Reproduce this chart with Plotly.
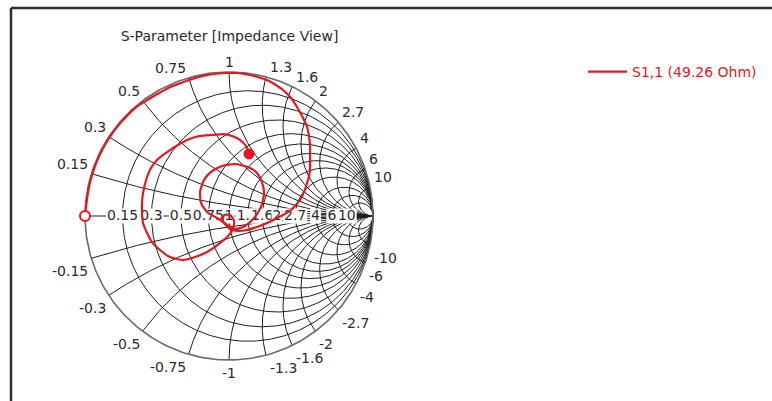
import numpy as np
import plotly.graph_objects as go

# ---- chart data -------------------------------------------------------
chart_title = "S-Parameter [Impedance View]"
trace_name = "S1,1 (49.26 Ohm)"

# Normalised grid values (resistance circles and reactance arcs)
grid_values = [0.15, 0.3, 0.5, 0.75, 1, 1.3, 1.6, 2, 2.7, 4, 6, 10]
grid_labels = ["0.15", "0.3", "0.5", "0.75", "1", "1.3", "1.6", "2", "2.7", "4", "6", "10"]

# S1,1 reflection coefficient over the frequency sweep (real / imaginary)
s11_re = [
    -1.000, -0.990, -0.978, -0.959, -0.933, -0.900, -0.860, -0.813, -0.761, -0.702,
    -0.638, -0.565, -0.492, -0.416, -0.336, -0.255, -0.172, -0.087, 0.000,
    0.056, 0.146, 0.201, 0.264, 0.326, 0.375, 0.431, 0.472, 0.507, 0.542, 0.556,
    0.563, 0.563, 0.563, 0.556, 0.542, 0.521, 0.493, 0.458, 0.424, 0.347, 0.264,
    0.194, 0.125,
    0.063, 0.007, -0.042, -0.083, -0.153, -0.194, -0.201, -0.174, -0.125, -0.049,
    0.042, 0.132, 0.194, 0.229, 0.243, 0.222, 0.174, 0.111, 0.049,
    0.000, -0.042, -0.035, 0.007, 0.035, 0.028, -0.007, -0.063,
    -0.153, -0.236, -0.319, -0.410, -0.479, -0.535, -0.569, -0.597, -0.604, -0.604,
    -0.597, -0.569, -0.542, -0.500, -0.458, -0.410, -0.354, -0.292, -0.201, -0.111,
    -0.042, 0.021, 0.076, 0.118, 0.139,
]
s11_im = [
    0.000, 0.087, 0.172, 0.257, 0.340, 0.420, 0.497, 0.570, 0.638, 0.702,
    0.761, 0.807, 0.851, 0.893, 0.923, 0.952, 0.975, 0.988, 0.993,
    0.993, 0.979, 0.965, 0.944, 0.910, 0.875, 0.819, 0.757, 0.694, 0.618, 0.549,
    0.479, 0.410, 0.340, 0.278, 0.229, 0.167, 0.111, 0.069, 0.035, -0.007, -0.049,
    -0.076, -0.097,
    -0.104, -0.090, -0.042, -0.014, 0.028, 0.090, 0.167, 0.250, 0.306, 0.347,
    0.361, 0.340, 0.299, 0.236, 0.153, 0.063, -0.014, -0.069, -0.090,
    -0.069, -0.035, 0.007, 0.007, -0.035, -0.090, -0.139, -0.188,
    -0.250, -0.285, -0.306, -0.285, -0.236, -0.181, -0.118, -0.049, 0.021, 0.090,
    0.160, 0.271, 0.333, 0.389, 0.424, 0.458, 0.493, 0.528, 0.556, 0.563,
    0.569, 0.556, 0.528, 0.486, 0.431,
]

# ---- layout constants ---------------------------------------------------
W, H = 772, 401
PX = 144.0                 # pixels per unit reflection coefficient
CX, CY = 229.0, 216.0      # chart centre in pixels
FONT = "DejaVu Sans"
TXT = "#2b2b2b"
RED = "#e5181e"

x_range = [-CX / PX, (W - CX) / PX]
y_range = [-(H - CY) / PX, CY / PX]


def gamma(z):
    return (z - 1) / (z + 1)


fig = go.Figure()

# ---- Smith grid ----------------------------------------------------------
gx, gy = [], []
t = np.linspace(0, 2 * np.pi, 361)
for r in grid_values:
    c, rad = r / (1 + r), 1 / (1 + r)
    gx += list(c + rad * np.cos(t)) + [None]
    gy += list(rad * np.sin(t)) + [None]
rr = np.concatenate([[0.0], np.logspace(-3, 4, 500)])
for v in grid_values:
    for s in (1, -1):
        g = gamma(rr + 1j * s * v)
        gx += list(g.real) + [None]
        gy += list(g.imag) + [None]
gx += [-1, 1, None]
gy += [0, 0, None]
fig.add_trace(go.Scatter(x=gx, y=gy, mode="lines", line=dict(color="#1e1e1e", width=1),
                         hoverinfo="skip", showlegend=False))

fig.add_trace(go.Scatter(x=np.cos(t), y=np.sin(t), mode="lines",
                         line=dict(color="#6a6a6a", width=1.6),
                         hoverinfo="skip", showlegend=False))


# ---- resistance labels along the real axis (white boxes hide the grid) ----
def text_width_px(s):
    return sum(4.45 if ch == "." else 8.9 for ch in s) + 2


for r, lab in zip(grid_values, grid_labels):
    cx = (r - 1) / (r + 1)
    hw = text_width_px(lab) / 2 / PX
    hh = 7.5 / PX
    fig.add_trace(go.Scatter(
        x=[cx - hw, cx + hw, cx + hw, cx - hw, cx - hw],
        y=[-hh, -hh, hh, hh, -hh], fill="toself", fillcolor="white",
        mode="lines", line=dict(color="rgba(0,0,0,0)", width=0),
        hoverinfo="skip", showlegend=False))
    fig.add_trace(go.Scatter(
        x=[cx], y=[0], mode="text", text=[lab], textposition="middle center",
        textfont=dict(family=FONT, size=14, color=TXT),
        hoverinfo="skip", showlegend=False))

# ---- reactance labels around the rim --------------------------------------
annotations = []
for v, lab in zip(grid_values, grid_labels):
    g = gamma(1j * v)
    for sgn in (1, -1):
        gr, gi = g.real, sgn * g.imag
        if abs(gr) < 0.05:
            xa, xs = "center", 0
        elif gr < 0:
            xa, xs = "right", -1
        else:
            xa, xs = "left", 2
        text = lab if sgn > 0 else "-" + lab
        annotations.append(dict(
            x=gr, y=gi, xref="x", yref="y", text=text, showarrow=False,
            xanchor=xa, yanchor="bottom" if sgn > 0 else "top",
            xshift=xs, yshift=0 if sgn > 0 else -3,
            font=dict(family=FONT, size=14, color=TXT)))

# ---- S1,1 curve -----------------------------------------------------------
fig.add_trace(go.Scatter(x=s11_re, y=s11_im, mode="lines", name=trace_name,
                         line=dict(color=RED, width=2.2, shape="spline", smoothing=0.6)))
fig.add_trace(go.Scatter(x=[s11_re[0]], y=[s11_im[0]], mode="markers",
                         marker=dict(symbol="circle", size=10, color="white",
                                     line=dict(color=RED, width=2)),
                         hoverinfo="skip", showlegend=False))
fig.add_trace(go.Scatter(x=[s11_re[-1]], y=[s11_im[-1]], mode="markers",
                         marker=dict(symbol="circle", size=11, color=RED),
                         hoverinfo="skip", showlegend=False))

# ---- frame ------------------------------------------------------------------
shapes = [
    dict(type="line", xref="paper", yref="paper", x0=11 / W, x1=1, y0=1 - 8 / H, y1=1 - 8 / H,
         line=dict(color="#2e2e2e", width=2.5)),
    dict(type="line", xref="paper", yref="paper", x0=11 / W, x1=11 / W, y0=0, y1=1 - 8 / H,
         line=dict(color="#2e2e2e", width=2.5)),
]

fig.update_layout(
    width=W, height=H, autosize=False,
    margin=dict(l=0, r=0, t=0, b=0, pad=0),
    paper_bgcolor="white", plot_bgcolor="white",
    xaxis=dict(range=x_range, visible=False, showgrid=False, zeroline=False, fixedrange=True),
    yaxis=dict(range=y_range, visible=False, showgrid=False, zeroline=False, fixedrange=True),
    title=dict(text=chart_title, x=229.5 / W, y=1 - 36 / H, xanchor="center", yanchor="middle",
               xref="container", yref="container", font=dict(family=FONT, size=14, color=TXT)),
    legend=dict(x=583 / W, y=1 - 72 / H, xanchor="left", yanchor="middle",
                font=dict(family=FONT, size=14, color=RED), bgcolor="rgba(0,0,0,0)",
                itemwidth=39, borderwidth=0),
    showlegend=True,
    annotations=annotations,
    shapes=shapes,
)

fig.write_html("out.html")
